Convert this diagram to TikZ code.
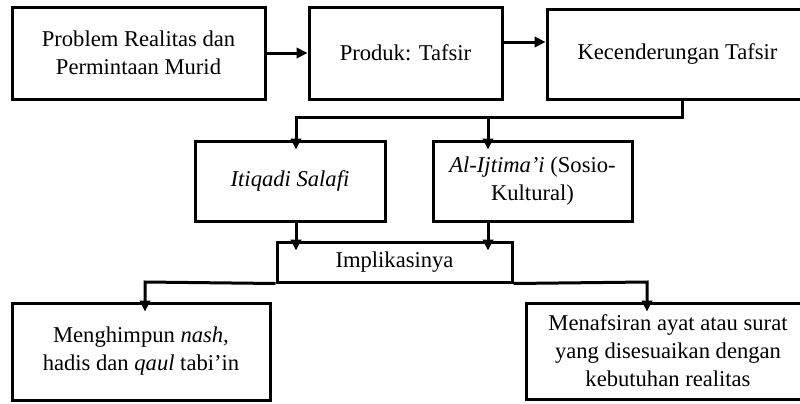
\documentclass[tikz,border=0pt]{standalone}
\usepackage{fontspec}
\setmainfont{Liberation Serif}
\usetikzlibrary{arrows.meta,positioning,calc}
\tikzset{
  % Kotak biasa: garis hitam tebal, teks di tengah
  kotak/.style={
    draw=black, line width=1.5pt, fill=white,
    inner sep=2pt, align=center,
    font=\fontsize{11.3pt}{14pt}\selectfont,
  },
  % Panah mendatar: ujung tepat di tepi kotak
  panah/.style={draw=black, line width=1.5pt,
    -{Triangle[length=5.5pt,width=5.2pt]}},
  % Panah tegak: ujung masuk sedikit ke dalam kotak
  panahv/.style={panah, shorten >=-5pt},
}
\newcommand{\kotak}[5]{%
  \node[kotak,minimum width=#3,minimum height=#4] (#1) at (#2) {#5};}

\begin{document}
\begin{tikzpicture}[x=0.5pt,y=-0.5pt]
\clip (0,0) rectangle (800,403);

% ----- baris 1 -----
\kotak{problem}{138.5,53}{126.5pt}{46pt}{Problem Realitas dan\\Permintaan Murid}
\kotak{produk}{405.5,53}{96.5pt}{46pt}{Produk: Tafsir}
\kotak{kecend}{677.5,54}{130.5pt}{45pt}{Kecenderungan Tafsir}

% ----- baris 2 -----
\kotak{itiqadi}{290,181}{95pt}{40pt}{\textit{Itiqadi Salafi}}
\kotak{ijtima}{532.5,181}{99.5pt}{40pt}{\textit{Al-Ijtima’i} (Sosio-\\Kultural)}

% ----- baris 3 -----
\kotak{impl}{394.5,262}{117.5pt}{20pt}{Implikasinya}

% ----- baris 4 -----
\kotak{menghimpun}{141,351.5}{129pt}{48.5pt}{Menghimpun \textit{nash,}\\hadis dan \textit{qaul} tabi’in}
\kotak{menafsiran}{668,351}{142pt}{48pt}{Menafsiran ayat atau surat\\yang disesuaikan dengan\\kebutuhan realitas}

% ----- titik belok -----
\coordinate (k1) at (296,117);
\coordinate (k2) at (488,117);
\coordinate (k3) at (145,282);
\coordinate (k4) at (647,282);

% ----- panah -----
\draw[panah] (problem.east) -- (produk.west);
\draw[panah] ([yshift=5.5pt]produk.east) -- ([yshift=5.5pt]produk.east -| kecend.west);

% Kecenderungan -> dua corak tafsir
\draw[panahv] ([xshift=2.25pt]kecend.south) |- (k1) -- (k1 |- itiqadi.north);
\draw[panahv] (k2) -- (k2 |- ijtima.north);

% corak -> Implikasinya
\draw[panahv] (k1 |- itiqadi.south) -- (k1 |- impl.north);
\draw[panahv] (k2 |- ijtima.south) -- (k2 |- impl.north);

% Implikasinya -> dua hasil, dari sudut bawah kotak
\draw[panahv] (impl.south west) -- (k3) -- (k3 |- menghimpun.north);
\draw[panahv] (impl.south east) -- (k4) -- (k4 |- menafsiran.north);

\end{tikzpicture}
\end{document}
